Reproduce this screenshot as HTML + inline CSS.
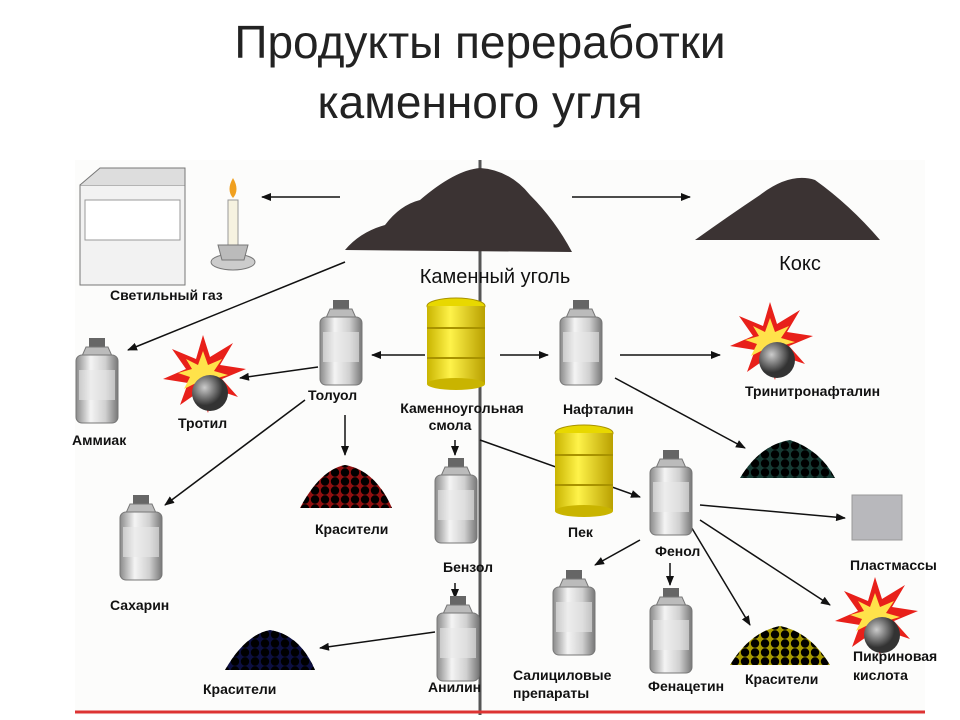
<!DOCTYPE html>
<html><head><meta charset="utf-8"><style>
body{margin:0;background:#fff;width:960px;height:720px;overflow:hidden}
svg{display:block}
.t{font-family:"Liberation Sans",sans-serif;font-weight:bold;font-size:14px;fill:#111}
</style></head><body>
<svg width="960" height="720" viewBox="0 0 960 720" xmlns="http://www.w3.org/2000/svg">
<defs>
<linearGradient id="bg" x1="0" x2="1"><stop offset="0" stop-color="#8a8a8a"/><stop offset=".35" stop-color="#f4f4f4"/><stop offset=".7" stop-color="#d0d0d0"/><stop offset="1" stop-color="#777"/></linearGradient>
<linearGradient id="yg" x1="0" x2="1"><stop offset="0" stop-color="#c9b400"/><stop offset=".4" stop-color="#fff34a"/><stop offset="1" stop-color="#b9a000"/></linearGradient>
<radialGradient id="ball" cx=".35" cy=".35"><stop offset="0" stop-color="#ccc"/><stop offset="1" stop-color="#333"/></radialGradient>
<marker id="a" markerWidth="10" markerHeight="8" refX="9" refY="4" orient="auto" markerUnits="userSpaceOnUse"><path d="M0,0 L10,4 L0,8z" fill="#111"/></marker>
<g id="bot">
<rect x="13" y="0" width="16" height="9" fill="#666"/>
<path d="M10,9 H32 L36,18 H6z" fill="#bbb" stroke="#777"/>
<rect x="0" y="17" width="42" height="68" rx="6" fill="url(#bg)" stroke="#777"/>
<rect x="3" y="32" width="36" height="30" fill="#e8e8e8" opacity=".6"/>
</g>
<g id="bar">
<ellipse cx="29" cy="8" rx="29" ry="8" fill="#e8d800" stroke="#a89200"/>
<rect x="0" y="8" width="58" height="78" fill="url(#yg)"/>
<ellipse cx="29" cy="86" rx="29" ry="6" fill="#c9b400"/>
<path d="M0,30 H58 M0,60 H58" stroke="#a89200" stroke-width="2"/>
</g>
<g id="bomb">
<polygon points="45,0 52,22 75,8 62,30 88,34 64,44 80,62 56,54 50,78 42,56 22,70 30,48 5,44 28,34 14,14 38,24" fill="#e8201a"/>
<polygon points="45,16 50,30 64,24 56,36 70,40 56,44 62,56 48,48 44,62 38,48 26,54 32,42 20,38 34,34 28,24 40,30" fill="#ffe24a"/>
<circle cx="52" cy="58" r="18" fill="url(#ball)"/>
</g>
<pattern id="dots" width="10" height="9" patternUnits="userSpaceOnUse"><circle cx="5" cy="4.5" r="4.2" fill="currentColor"/></pattern>
</defs>

<text x="480" y="58" text-anchor="middle" font-family="Liberation Sans,sans-serif" font-size="46" fill="#222">Продукты переработки</text>
<text x="480" y="118" text-anchor="middle" font-family="Liberation Sans,sans-serif" font-size="46" fill="#222">каменного угля</text>

<rect x="75" y="160" width="850" height="555" fill="#fcfcfb"/>
<line x1="480" y1="160" x2="480" y2="715" stroke="#555" stroke-width="3"/>
<line x1="75" y1="712" x2="925" y2="712" stroke="#d33" stroke-width="3"/>

<!-- stove -->
<rect x="80" y="185" width="105" height="100" fill="#f2f2f2" stroke="#777"/>
<path d="M80,185 L100,168 H185 V185" fill="#ddd" stroke="#777"/>
<rect x="85" y="200" width="95" height="40" fill="#fff" stroke="#999"/>
<!-- candle -->
<rect x="228" y="200" width="10" height="45" fill="#f6f2e0" stroke="#999"/>
<path d="M233,178 Q240,190 233,198 Q226,190 233,178z" fill="#f0a020"/>
<ellipse cx="233" cy="262" rx="22" ry="8" fill="#ccc" stroke="#777"/>
<path d="M218,245 H248 L244,260 H222z" fill="#bbb" stroke="#777"/>

<!-- coal, coke -->
<path d="M345,250 Q360,232 385,225 Q400,205 420,200 Q455,170 480,168 Q510,170 530,195 Q555,220 572,252z" fill="#3b3333"/>
<path d="M695,240 Q730,215 760,195 Q790,172 815,180 Q850,205 880,240z" fill="#3b3333"/>
<text x="495" y="283" text-anchor="middle" font-family="Liberation Sans,sans-serif" font-size="20" fill="#111">Каменный уголь</text>
<text x="800" y="270" text-anchor="middle" font-family="Liberation Sans,sans-serif" font-size="20" fill="#111">Кокс</text>
<text x="110" y="300" class="t">Светильный газ</text>

<g stroke="#111" stroke-width="1.5" fill="none" marker-end="url(#a)">
<line x1="340" y1="197" x2="262" y2="197"/>
<line x1="572" y1="197" x2="690" y2="197"/>
<line x1="345" y1="262" x2="128" y2="350"/>
<line x1="425" y1="355" x2="372" y2="355"/>
<line x1="500" y1="355" x2="548" y2="355"/>
<line x1="620" y1="355" x2="720" y2="355"/>
<line x1="615" y1="378" x2="745" y2="448"/>
<line x1="318" y1="367" x2="240" y2="378"/>
<line x1="345" y1="415" x2="345" y2="455"/>
<line x1="305" y1="400" x2="165" y2="505"/>
<line x1="455" y1="440" x2="455" y2="455"/>
<line x1="480" y1="440" x2="640" y2="497"/>
<line x1="700" y1="505" x2="845" y2="518"/>
<line x1="700" y1="520" x2="830" y2="605"/>
<line x1="690" y1="525" x2="750" y2="625"/>
<line x1="670" y1="563" x2="670" y2="585"/>
<line x1="640" y1="540" x2="595" y2="565"/>
<line x1="455" y1="583" x2="455" y2="598"/>
<line x1="435" y1="632" x2="320" y2="648"/>
</g>

<use href="#bot" x="76" y="338"/>
<text x="72" y="445" class="t" font-size="15">Аммиак</text>
<use href="#bomb" x="158" y="335"/>
<text x="178" y="428" class="t">Тротил</text>
<use href="#bot" x="320" y="300"/>
<text x="308" y="400" class="t">Толуол</text>
<use href="#bar" x="427" y="298"/>
<text x="462" y="413" class="t" text-anchor="middle">Каменноугольная</text>
<text x="450" y="430" class="t" text-anchor="middle">смола</text>
<use href="#bot" x="560" y="300"/>
<text x="563" y="414" class="t">Нафталин</text>
<use href="#bomb" x="725" y="302"/>
<text x="745" y="396" class="t">Тринитронафталин</text>
<path d="M740,478 Q760,445 790,440 Q820,450 835,478z" fill="#163a33"/>
<path d="M740,478 Q760,445 790,440 Q820,450 835,478z" fill="url(#dots)" style="color:#2f6a5e"/>
<path d="M300,508 Q320,470 345,465 Q375,470 392,508z" fill="#901010"/>
<path d="M300,508 Q320,470 345,465 Q375,470 392,508z" fill="url(#dots)" style="color:#e02020"/>
<text x="315" y="534" class="t">Красители</text>
<use href="#bot" x="120" y="495"/>
<text x="110" y="610" class="t" font-size="15">Сахарин</text>
<use href="#bot" x="435" y="458"/>
<text x="443" y="572" class="t" font-size="16">Бензол</text>
<use href="#bar" x="555" y="425"/>
<text x="568" y="537" class="t" font-size="15">Пек</text>
<use href="#bot" x="650" y="450"/>
<text x="655" y="556" class="t">Фенол</text>
<rect x="852" y="495" width="50" height="45" fill="#b8b8bc" stroke="#999"/>
<text x="850" y="570" class="t">Пластмассы</text>
<use href="#bomb" x="830" y="577"/>
<text x="853" y="661" class="t">Пикриновая</text>
<text x="853" y="680" class="t">кислота</text>
<path d="M730,665 Q750,632 780,626 Q810,632 830,665z" fill="#a89a00"/>
<path d="M730,665 Q750,632 780,626 Q810,632 830,665z" fill="url(#dots)" style="color:#f4ea30"/>
<text x="745" y="684" class="t">Красители</text>
<use href="#bot" x="650" y="588"/>
<text x="648" y="691" class="t">Фенацетин</text>
<use href="#bot" x="553" y="570"/>
<text x="513" y="680" class="t">Салициловые</text>
<text x="513" y="698" class="t">препараты</text>
<use href="#bot" x="437" y="596"/>
<text x="428" y="692" class="t">Анилин</text>
<path d="M225,670 Q245,635 270,630 Q300,635 315,670z" fill="#0c0f40"/>
<path d="M225,670 Q245,635 270,630 Q300,635 315,670z" fill="url(#dots)" style="color:#232a80"/>
<text x="203" y="694" class="t">Красители</text>
</svg>
</body></html>
